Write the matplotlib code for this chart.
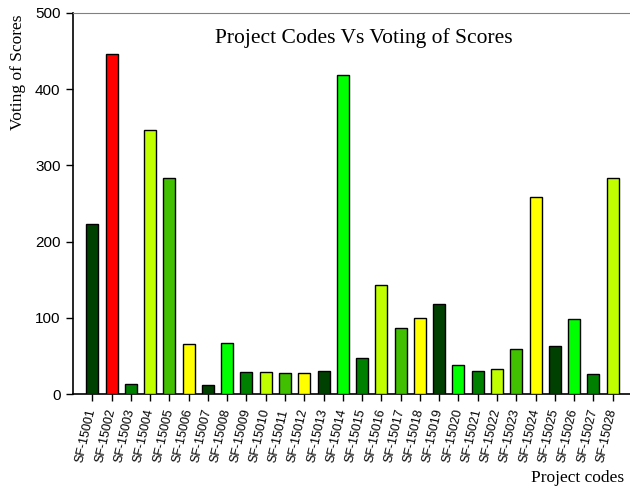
import matplotlib
matplotlib.use("Agg")
import matplotlib.pyplot as plt
import numpy as np

codes = [f"SF-150{i:02d}" for i in range(1, 29)]
votes = [223, 446, 13, 347, 284, 66, 12, 67, 29, 29, 28, 28, 30, 418,
         47, 143, 86, 100, 118, 38, 30, 33, 59, 258, 63, 98, 26, 284]
palette = ["#004000", "#00FF00", "#008000", "#C0FF00", "#40C000", "#FFFF00"]
highlight = {"SF-15002": "#FF0000"}
colors = [highlight.get(c, palette[i % 6]) for i, c in enumerate(codes)]
yticks = [0, 100, 200, 300, 400, 500]

fig = plt.figure(figsize=(6.3, 4.88), dpi=100)
ax = fig.add_axes([73/630, 1-394/488, 1-73/630, (394-13)/488])
x = np.arange(1, len(codes)+1)
ax.bar(x, votes, width=0.62, color=colors, edgecolor="black", linewidth=1.0, zorder=3)
ax.set_xlim(0, 28.9)
ax.set_ylim(0, 500)
ax.set_yticks(yticks)
ax.set_yticklabels([str(v) for v in yticks], fontfamily="Liberation Sans", fontsize=11)
ax.set_xticks(x)
ax.set_xticklabels(codes, rotation=77, ha="right", va="center", rotation_mode="anchor",
                   fontfamily="Liberation Sans", fontsize=9)
ax.tick_params(axis="x", direction="out", length=5, width=1, pad=6)
ax.tick_params(axis="y", direction="out", length=5, width=1, pad=4)
ax.spines["right"].set_visible(False)
ax.spines["top"].set_color("#808080")
ax.spines["left"].set_linewidth(1.2)
ax.spines["bottom"].set_linewidth(1.2)
fig.text(18/630, 1-14/488, "Voting of Scores", rotation=90, ha="center", va="top",
         fontfamily="Liberation Serif", fontsize=12.5)
ax.text(0.522, 0.935, "Project Codes Vs Voting of Scores", transform=ax.transAxes,
        ha="center", va="center", fontfamily="Liberation Serif", fontsize=15.5)
fig.text(0.99, 1-478/488, "Project codes", ha="right", va="center",
         fontfamily="Liberation Serif", fontsize=12.5)
fig.savefig("out.png", dpi=100)
